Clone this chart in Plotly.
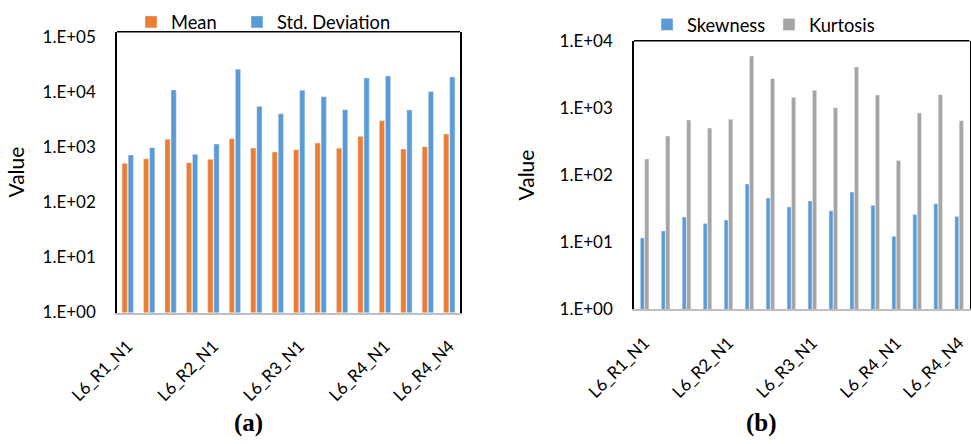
import plotly.graph_objects as go

categories = ["L6_R1_N1", "L6_R1_N2", "L6_R1_N3", "L6_R1_N4",
              "L6_R2_N1", "L6_R2_N2", "L6_R2_N3", "L6_R2_N4",
              "L6_R3_N1", "L6_R3_N2", "L6_R3_N3", "L6_R3_N4",
              "L6_R4_N1", "L6_R4_N2", "L6_R4_N3", "L6_R4_N4"]
shown_ticks = ["L6_R1_N1", "L6_R2_N1", "L6_R3_N1", "L6_R4_N1", "L6_R4_N4"]

mean_vals = [506, 613, 1380, 519, 598, 1415, 959, 811, 893, 1183, 947, 1564, 3001, 920, 1012, 1722]
std_vals = [716, 971, 10820, 737, 1133, 25700, 5480, 4020, 10690, 8180, 4750, 17870, 19440, 4690, 10090, 18640]
skew_vals = [11.5, 14.7, 23.7, 18.9, 21.4, 73.5, 45.4, 33.4, 41.0, 29.4, 55.8, 35.3, 12.2, 25.7, 37.4, 24.0]
kurt_vals = [173, 381, 659, 501, 674, 5910, 2718, 1433, 1823, 1005, 4055, 1553, 165, 838, 1571, 644]

left_ticks = [1, 10, 100, 1000, 10000, 100000]
left_ticktext = ["1.E+00", "1.E+01", "1.E+02", "1.E+03", "1.E+04", "1.E+05"]
right_ticks = [1, 10, 100, 1000, 10000]
right_ticktext = ["1.E+00", "1.E+01", "1.E+02", "1.E+03", "1.E+04"]

ORANGE = "#ED7D31"
BLUE = "#5B9BD5"
GRAY = "#A5A5A5"
FONT = "Lato"
W, H = 971, 444

fig = go.Figure()
fig.add_trace(go.Bar(x=categories, y=mean_vals, name="Mean", marker_color=ORANGE,
                     width=0.245, offset=-0.265, xaxis="x", yaxis="y", legend="legend",
                     legendwidth=61))
fig.add_trace(go.Bar(x=categories, y=std_vals, name="Std. Deviation", marker_color=BLUE,
                     width=0.245, offset=0.02, xaxis="x", yaxis="y", legend="legend"))
fig.add_trace(go.Bar(x=categories, y=skew_vals, name="Skewness", marker_color=BLUE,
                     width=0.19, offset=-0.2, xaxis="x2", yaxis="y2", legend="legend2",
                     legendwidth=77))
fig.add_trace(go.Bar(x=categories, y=kurt_vals, name="Kurtosis", marker_color=GRAY,
                     width=0.2, offset=0.01, xaxis="x2", yaxis="y2", legend="legend2"))

tickfont = dict(family=FONT, size=17, color="#000000")

def px_x(p):
    return p / W

def px_y(p):
    return 1 - p / H

xcommon = dict(type="category", categoryorder="array", categoryarray=categories,
               tickmode="array", tickvals=shown_ticks, ticktext=shown_ticks,
               tickangle=-45, tickfont=tickfont, showgrid=False, ticks="",
               showline=True, linecolor="#BFBFBF", linewidth=2, ticklabelstandoff=15,
               range=[-0.5, 15.5], automargin=False)

def ycommon(standoff):
    return dict(type="log", tickmode="array", showgrid=False, ticks="",
                showline=True, mirror=True, linecolor="#000000", linewidth=1.5,
                tickfont=tickfont, ticklabelstandoff=16, automargin=False,
                title=dict(text="Value", font=dict(family=FONT, size=21, color="#000000"),
                           standoff=standoff))

legend_font = dict(family=FONT, size=18.3, color="#000000")

fig.update_layout(
    width=W, height=H,
    margin=dict(l=0, r=0, t=0, b=0, autoexpand=False),
    paper_bgcolor="white", plot_bgcolor="white",
    barmode="overlay",
    xaxis=dict(domain=[px_x(117), px_x(460)], anchor="y", **xcommon),
    yaxis=dict(domain=[px_y(312.5), px_y(31.7)], anchor="x",
               range=[0, 5.09], tickvals=left_ticks, ticktext=left_ticktext, **ycommon(12)),
    xaxis2=dict(domain=[px_x(634), px_x(969.5)], anchor="y2", **xcommon),
    yaxis2=dict(domain=[px_y(309.3), px_y(40.7)], anchor="x2",
                range=[0, 4], tickvals=right_ticks, ticktext=right_ticktext, **ycommon(19)),
    legend=dict(orientation="h", x=px_x(131), xanchor="left", y=px_y(22), yanchor="middle",
                font=legend_font, bgcolor="rgba(0,0,0,0)"),
    legend2=dict(orientation="h", x=px_x(647), xanchor="left", y=px_y(24.5), yanchor="middle",
                 font=legend_font, bgcolor="rgba(0,0,0,0)"),
    shapes=[
        dict(type="line", xref="x domain", yref="y domain", x0=0, x1=1, y0=1, y1=1,
             line=dict(color="#000000", width=1.5)),
        dict(type="line", xref="x2 domain", yref="y2 domain", x0=0, x1=1, y0=1, y1=1,
             line=dict(color="#000000", width=1.5)),
    ],
    annotations=[
        dict(text="<b>(a)</b>", x=px_x(248), y=px_y(423), xref="paper", yref="paper",
             xanchor="center", yanchor="middle", showarrow=False,
             font=dict(family="Liberation Serif", size=25, color="#000000")),
        dict(text="<b>(b)</b>", x=px_x(761.7), y=px_y(423), xref="paper", yref="paper",
             xanchor="center", yanchor="middle", showarrow=False,
             font=dict(family="Liberation Serif", size=25, color="#000000")),
    ],
)

fig.write_html("out.html")
